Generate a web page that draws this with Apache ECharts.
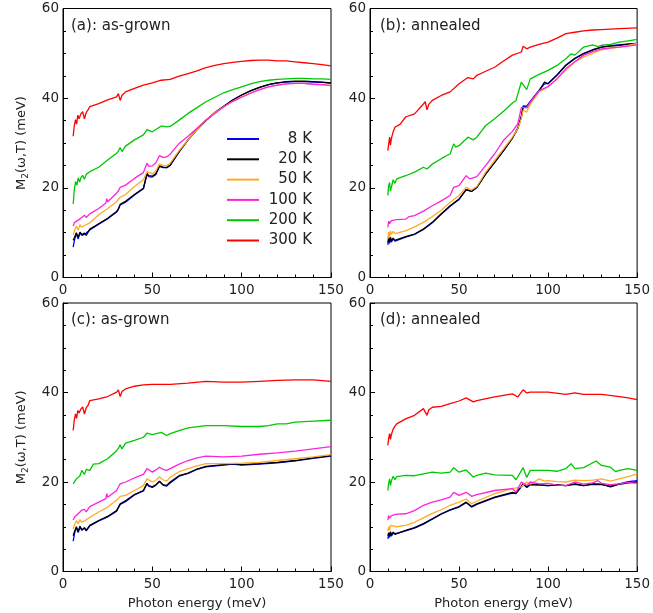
<!DOCTYPE html>
<html><head><meta charset="utf-8">
<script src="https://cdn.jsdelivr.net/npm/echarts@6/dist/echarts.min.js"></script>
<style>html,body{margin:0;padding:0;background:#fff}#c{width:653px;height:613px}</style>
</head><body><div id="c"></div>
<script>
var seriesNames = ['8 K','20 K','50 K','100 K','200 K','300 K'];
var seriesColors = ['#0000ff','#000000','#ffab26','#ff22dd','#00c800','#ff0000'];
var panelTitles = ['(a): as-grown','(b): annealed','(c): as-grown','(d): annealed'];
var xTicks = [0,50,100,150];
var yTicks = [0,20,40,60];

// Panel (a)
var a8 = [[5.7,6.8],[6.5,8.5],[7.5,9.8],[8.5,8.6],[9.5,10],[10.5,9.4],[12,9.6],[13,9.2],[15,10.6],[20,11.9],[25,13.1],[30,14.6],[31,15.2],[32,16.2],[33,15.8],[35,16.8],[40,18.4],[45,19.8],[47,23],[48,22.5],[50,22.4],[52,23],[54,24.8],[56,24.5],[58,24.5],[60,25],[65,28],[70,30.7],[75,33],[80,35],[85,36.8],[90,38.2],[95,39.6],[100,40.7],[105,41.6],[110,42.4],[115,43],[120,43.4],[125,43.6],[130,43.7],[135,43.7],[140,43.6],[145,43.5],[150,43.3]];
var a20 = [[5.7,8.3],[6.5,9],[7.5,10],[8.5,8.9],[9.5,10.1],[10.5,9.6],[12,9.9],[13,9.4],[15,10.8],[20,12],[25,13.2],[30,14.7],[31,15.3],[32,16.3],[33,15.9],[35,17],[40,18.5],[45,19.9],[47,23.2],[48,22.7],[50,22.6],[52,23.2],[54,24.9],[56,24.6],[58,24.5],[60,25.1],[65,28.1],[70,30.7],[75,33],[80,35],[85,36.8],[90,38.2],[95,39.6],[100,40.7],[105,41.7],[110,42.4],[115,43],[120,43.4],[125,43.7],[130,43.8],[135,43.8],[140,43.7],[145,43.6],[150,43.4]];
var a50 = [[5.7,9.5],[6.5,10.5],[7.5,11.5],[8.5,10.6],[9.5,11.8],[10.5,11.2],[12,11.6],[13,11.4],[15,12.2],[20,14],[25,15.4],[30,16.9],[31,17.3],[32,17.9],[33,17.5],[35,18.5],[40,20.3],[45,21.8],[47,23.6],[48,23.2],[50,23.1],[52,23.8],[54,25.3],[56,25],[58,24.9],[60,25.5],[65,28.3],[70,30.7],[75,33],[80,35.1],[85,36.8],[90,38.1],[95,39.3],[100,40.3],[105,41.2],[110,41.9],[115,42.5],[120,42.9],[125,43.2],[130,43.3],[135,43.3],[140,43.1],[145,43],[150,42.8]];
var a100 = [[5.7,11.5],[6.5,12.3],[7.5,12.1],[8.5,12.8],[9.5,12.5],[10.5,13.4],[12,13.9],[13,13.4],[15,14.2],[20,15.4],[24,16.6],[24.5,17.6],[25,16.9],[30,18.8],[31,19.3],[32,20.1],[33,19.8],[35,20.6],[40,22.1],[45,23.4],[47,25.5],[48,24.8],[50,24.9],[52,25.6],[54,27.2],[56,26.8],[58,26.9],[60,27.5],[65,29.9],[70,31.5],[75,33.3],[80,35.1],[85,36.6],[90,38.1],[95,39.3],[100,40.2],[105,41.1],[110,41.9],[115,42.5],[120,42.9],[125,43.2],[130,43.3],[135,43.3],[140,43.1],[145,43],[150,42.8]];
var a200 = [[5.7,16.4],[6.3,19.5],[7,21.4],[7.8,20.6],[8.5,22.2],[9.3,21.3],[10,22.2],[11,22.8],[12,21.9],[13,23],[15,23.6],[20,24.6],[25,26.2],[30,27.7],[31,28.2],[32,29],[33,28.1],[35,29.3],[40,30.7],[45,31.8],[47,33],[48,32.6],[50,32.5],[55,33.8],[58,33.6],[60,33.7],[65,35.1],[70,36.6],[75,37.9],[80,39.2],[85,40.2],[90,41.2],[95,41.9],[100,42.5],[105,43.2],[110,43.7],[115,44],[120,44.2],[125,44.3],[130,44.4],[135,44.4],[140,44.3],[145,44.3],[150,44.2]];
var a300 = [[5.7,31.5],[6.3,33.8],[7,35.2],[7.6,34.2],[8.3,36.2],[9,35.4],[10,36.5],[11,37],[12,35.4],[13,36.8],[14,37.4],[15,38.1],[20,38.8],[25,39.6],[30,40.3],[31,41],[32,39.5],[33,40.6],[35,41.4],[40,42.2],[45,42.9],[50,43.4],[55,44],[60,44.2],[65,44.9],[70,45.5],[75,46.1],[80,46.8],[85,47.3],[90,47.7],[95,48],[100,48.2],[105,48.4],[110,48.5],[115,48.5],[120,48.3],[125,48.3],[130,48.1],[135,47.9],[140,47.7],[145,47.5],[150,47.2]];

// Panel (b)
var b8 = [[10,7.3],[10.5,8.5],[11,7.6],[11.5,8.8],[12,7.9],[13,8.6],[14,8.1],[15,8.5],[20,9],[25,9.6],[30,10.7],[35,12.2],[40,14.1],[45,15.9],[50,17.4],[54,19.6],[57,19.2],[60,20.1],[65,23.1],[70,25.7],[75,28.3],[80,31.1],[83,33.4],[85,36],[86,38.3],[88,38.2],[90,39.3],[95,41.8],[98,43.2],[100,43.3],[105,45.2],[110,47.4],[115,48.9],[120,50],[125,50.8],[130,51.4],[135,51.7],[140,51.9],[145,52.1],[150,52.2]];
var b20 = [[10,7.8],[10.5,8.9],[11,8],[11.5,9],[12,8.2],[13,8.8],[14,8.3],[15,8.6],[20,9.1],[25,9.7],[30,10.8],[35,12.3],[40,14.2],[45,16],[50,17.5],[54,19.6],[57,19.2],[60,20.1],[65,23.1],[70,25.7],[75,28.3],[80,31.1],[83,33.2],[85,35.8],[86,38],[88,37.9],[90,39.1],[95,41.7],[98,43.6],[100,43.2],[105,45.1],[110,47.3],[115,48.8],[120,49.9],[125,50.7],[130,51.4],[135,51.6],[140,51.8],[145,52],[150,52.2]];
var b50 = [[10,8.6],[10.5,10.2],[11,9],[11.5,10.4],[12,9.6],[13,10.3],[14,9.8],[15,10.1],[20,10.4],[25,11.3],[30,12.3],[35,13.6],[40,15],[45,16.8],[50,18.3],[54,20.1],[57,19.5],[60,20.3],[65,23.5],[70,26.1],[75,28.7],[80,31.3],[83,33.2],[85,35.5],[86,37.3],[88,36.9],[90,38.7],[95,41.4],[100,42.5],[105,44.3],[110,46.2],[115,48.1],[120,49.2],[125,50],[130,50.8],[135,51.1],[140,51.4],[145,51.8],[150,52.2]];
var b100 = [[10,11.2],[10.5,12.6],[11,12],[12,12.7],[13,12.3],[15,12.9],[20,13],[22,13.6],[25,13.8],[30,14.8],[35,16],[40,17.1],[45,18.3],[47,20.1],[50,20.5],[54,22.7],[56,22],[60,22.5],[65,25],[70,27.6],[75,30.6],[80,32.6],[83,34.3],[85,37.9],[88,37.9],[90,39.1],[95,41.7],[100,42.6],[105,44.3],[110,46.6],[115,48.1],[120,49.6],[125,50.4],[130,51],[135,51.2],[140,51.4],[145,51.6],[150,51.9]];
var b200 = [[10,18.3],[10.5,20.5],[11,21.2],[11.5,19.3],[12,20.1],[13,21.8],[14,21],[15,22],[20,22.7],[25,23.5],[30,24.6],[32,24.2],[35,25.3],[40,26.5],[45,27.6],[47,29.8],[48,29.1],[50,29.4],[55,31.3],[58,30.7],[60,31.3],[65,33.9],[70,35.4],[75,37.1],[80,38.9],[82,39.5],[85,43.6],[88,41.9],[90,44.3],[95,45.3],[100,46.2],[105,47.3],[110,48.8],[113,49.9],[115,49.6],[120,51.4],[125,51.9],[128,51.5],[130,51.8],[135,52],[140,52.5],[145,52.8],[150,53.1]];
var b300 = [[10,28.3],[10.5,29.8],[11,31.3],[11.5,29.5],[12,31],[13,32.5],[14,33.5],[15,33.9],[17,34.2],[20,35.8],[25,36.5],[30,38.7],[31,39.2],[32,37.4],[33,38.6],[35,39.5],[40,40.6],[45,41.4],[50,43.2],[55,44.6],[58,44.3],[60,45.1],[65,46],[70,46.9],[75,48.3],[80,49.6],[85,50.3],[86,51.6],[88,51],[90,51.4],[95,52],[100,52.5],[105,53.4],[110,54.4],[115,54.7],[120,55],[125,55.2],[130,55.3],[140,55.5],[150,55.7]];

// Panel (c)
var c8 = [[5.7,6.8],[6.5,8.6],[7.5,9.8],[8.5,8.7],[9.5,10],[10.5,9.2],[12,9.7],[13,9.1],[15,10.2],[20,11.3],[25,12.2],[30,13.5],[32,15],[33,14.8],[35,15.6],[40,17.1],[45,18],[47,19.6],[48,19.1],[50,18.8],[52,19.3],[54,20.1],[56,19.3],[58,19.1],[60,19.8],[65,21.3],[70,21.9],[75,22.8],[80,23.4],[90,23.8],[95,24],[100,23.8],[110,24],[120,24.3],[130,24.7],[140,25.3],[150,25.8]];
var c20 = [[5.7,8],[6.5,9],[7.5,10],[8.5,8.9],[9.5,10.1],[10.5,9.3],[12,9.8],[13,9.2],[15,10.3],[20,11.4],[25,12.3],[30,13.6],[32,15.1],[33,14.9],[35,15.8],[40,17.2],[45,18.1],[47,19.7],[48,19.2],[50,18.9],[52,19.4],[54,20.2],[56,19.4],[58,19.2],[60,20],[65,21.4],[70,22],[75,22.9],[80,23.5],[90,23.9],[95,24.1],[100,23.9],[110,24.1],[120,24.4],[130,24.8],[140,25.4],[150,25.9]];
var c50 = [[5.7,9.5],[6.5,10.5],[7.5,11.4],[8.5,10.7],[9.5,11.6],[10.5,11],[12,11.3],[13,11.2],[15,12.1],[20,13.3],[25,14.4],[30,15.9],[32,16.8],[33,16.4],[35,17],[40,18.1],[45,19.2],[47,20.7],[48,20.3],[50,20],[52,20.4],[54,21.1],[56,20.5],[58,20.2],[60,21.1],[65,22.3],[70,23],[75,23.6],[80,24.1],[90,24.1],[100,24.2],[110,24.4],[120,24.8],[130,25.2],[140,25.6],[150,26.1]];
var c100 = [[5.7,11.5],[6.5,12.2],[7.5,12],[8.5,12.9],[9.5,12.6],[10.5,13.7],[12,13.9],[13,13.3],[15,14.5],[20,15.5],[24,16.3],[24.5,17.4],[25,16.6],[30,18.1],[32,19.6],[33,19.3],[35,20],[40,20.9],[45,21.7],[47,23],[48,22.6],[50,22.2],[52,22.7],[54,23.3],[56,22.8],[58,22.6],[60,23],[65,24],[70,24.8],[75,25.4],[80,25.8],[90,25.6],[100,25.8],[110,26.2],[120,26.5],[130,26.9],[140,27.4],[150,27.9]];
var c200 = [[5.7,19.6],[6.5,20.1],[7.5,20.7],[8.5,20.5],[9.5,21.4],[10.5,22.6],[12,21.7],[13,22.8],[15,22.6],[17,24],[20,24.1],[25,25.2],[30,27],[31,27.5],[32,28.3],[33,27.4],[35,28.7],[40,29.3],[45,30],[47,30.9],[48,30.6],[50,30.6],[55,31.1],[58,30.4],[60,30.8],[65,31.5],[70,32.1],[80,32.6],[90,32.6],[100,32.4],[110,32.4],[115,32.6],[120,33],[125,33],[130,33.4],[140,33.6],[150,33.8]];
var c300 = [[5.7,31.5],[6.3,33.8],[7,35.2],[7.6,34.2],[8.3,36],[9,35.4],[10,36.3],[11,36.8],[12,35.2],[13,36.6],[14,37.1],[15,38.2],[20,38.6],[25,39.1],[30,40.1],[31,40.6],[32,39.1],[33,40.2],[35,40.8],[40,41.4],[45,41.7],[50,41.8],[60,41.8],[70,42.1],[80,42.5],[90,42.3],[100,42.3],[110,42.5],[120,42.7],[130,42.8],[140,42.8],[150,42.5]];

// Panel (d)
var d8 = [[10,7.3],[10.5,8.3],[11,7.6],[11.5,8.6],[12,7.9],[13,8.5],[14,8.1],[15,8.5],[20,9.1],[25,9.7],[30,10.6],[35,11.7],[40,12.8],[45,13.7],[50,14.4],[54,15.4],[57,14.4],[60,15],[70,16.5],[80,17.5],[82,17.4],[86,19.5],[88,18.8],[90,19.4],[95,19.3],[100,19.2],[105,19.3],[110,19.2],[115,19.5],[120,19.2],[125,19.5],[130,19.4],[135,19.1],[140,19.6],[145,20.1],[150,20.3]];
var d20 = [[10,8],[10.5,8.7],[11,7.9],[11.5,8.9],[12,8.2],[13,8.8],[14,8.3],[15,8.6],[20,9.2],[25,9.8],[30,10.7],[35,11.8],[40,12.9],[45,13.8],[50,14.5],[54,15.5],[57,14.5],[60,15.1],[70,16.6],[80,17.7],[82,17.5],[86,19.6],[88,18.9],[90,19.5],[95,19.4],[100,19.2],[105,19.4],[110,19.2],[115,19.6],[120,19.2],[125,19.6],[130,19.5],[135,18.9],[140,19.5],[145,19.8],[150,20]];
var d50 = [[10,9],[10.5,10],[11,9.2],[11.5,10.3],[12,9.9],[13,10.2],[15,10],[20,10.3],[25,11],[30,12],[35,13],[40,13.8],[45,14.8],[50,15.5],[54,16.2],[57,15.1],[60,15.7],[70,17.4],[80,18.5],[85,18.9],[88,20],[90,19.5],[95,20.7],[98,20.2],[100,20.3],[105,20.1],[110,20],[115,20.4],[120,20.3],[125,20.4],[130,20.7],[135,20.2],[140,20.7],[145,21.2],[150,21.8]];
var d100 = [[10,11.5],[10.5,12.5],[11,11.9],[12,12.5],[13,12.2],[15,12.8],[20,12.9],[25,13.6],[30,14.8],[35,15.5],[40,16],[45,16.6],[47,17.7],[50,17],[54,17.7],[57,16.8],[60,17.2],[70,18.1],[80,18.5],[82,17.7],[85,20],[88,19.2],[90,20],[95,19.6],[100,19.7],[105,19.3],[110,19.2],[115,20],[120,19.5],[125,19.8],[128,20.3],[130,19.7],[135,19.4],[140,19.6],[145,19.9],[150,19.7]];
var d200 = [[10,18.1],[10.5,19.8],[11,20.7],[11.5,19.2],[12,20.2],[13,21.3],[14,20.5],[15,21.2],[20,21.5],[25,21.4],[30,21.8],[35,22.2],[40,22],[45,22.2],[47,23.2],[50,22.2],[54,22.7],[58,21.1],[60,21.5],[65,22],[70,21.6],[80,21.5],[82,20.5],[86,23.2],[88,21],[90,22.6],[100,22.6],[105,22.4],[110,23],[113,24.1],[115,23],[120,23.2],[127,24.7],[130,23.7],[135,23.3],[138,22.3],[140,22.6],[145,23],[150,22.6]];
var d300 = [[10,28.2],[10.5,29.8],[11,30.8],[11.5,29.5],[12,30.6],[13,31.8],[14,32.5],[15,33],[20,34.1],[25,34.9],[30,36.4],[31,36.7],[32,34.9],[33,36.1],[35,36.7],[40,36.9],[45,37.5],[50,38.1],[54,38.8],[58,37.9],[60,38.2],[70,39],[80,39.7],[83,39],[86,40.6],[88,39.9],[90,40.1],[100,40.1],[110,39.6],[115,39.9],[120,39.6],[130,39.6],[140,39.1],[145,38.8],[150,38.4]];

var panelData = [
  [a8,a20,a50,a100,a200,a300],
  [b8,b20,b50,b100,b200,b300],
  [c8,c20,c50,c100,c200,c300],
  [d8,d20,d50,d100,d200,d300]
];

var FONT = 'DejaVu Sans';
var TXT = '#222';
var grids = [
  {left:63, top:8.5, width:268, height:269},
  {left:370, top:8.5, width:269, height:269},
  {left:63, top:303, width:268, height:268.5},
  {left:370, top:303, width:269, height:268.5}
];
var titlePos = [[71,19],[380,19],[71,313],[380,313]];

var option = {
  animation:false,
  backgroundColor:'#fff',
  grid: grids.map(function(g){ return Object.assign({show:true, borderColor:'#000', borderWidth:1, backgroundColor:'transparent'}, g); }),
  title: panelTitles.map(function(t,i){ return {text:t, left:titlePos[i][0], top:titlePos[i][1], padding:0,
    textStyle:{fontFamily:FONT, fontSize:15, fontWeight:'normal', color:TXT}}; }),
  legend: {
    data: seriesNames, orient:'vertical', left:227, top:129, padding:0,
    itemWidth:32, itemHeight:2, itemGap:0.3, icon:'rect',
    formatter: function(n){ return '{t|'+n+'}'; },
    textStyle:{fontFamily:FONT, fontSize:15, color:TXT, lineHeight:20,
      rich:{t:{fontFamily:FONT, fontSize:15, color:TXT, width:48, align:'right', lineHeight:20}}}
  },
  xAxis: [], yAxis: [], series: []
};

for (var p=0;p<4;p++){
  var bottomRow = p>=2, leftCol = (p%2===0);
  option.xAxis.push({
    type:'value', gridIndex:p, min:xTicks[0], max:xTicks[xTicks.length-1], interval:xTicks[1]-xTicks[0],
    axisLine:{show:true, lineStyle:{color:'#000', width:1}},
    axisTick:{show:true, inside:true, length:5, lineStyle:{color:'#000'}},
    minorTick:{show:true, splitNumber:5, length:3, lineStyle:{color:'#000'}},
    splitLine:{show:false},
    axisLabel:{fontFamily:FONT, fontSize:13.5, color:TXT, margin:6},
    name: bottomRow ? 'Photon energy (meV)' : '', nameLocation:'middle', nameGap:26,
    nameTextStyle:{fontFamily:FONT, fontSize:13, color:TXT}
  });
  option.yAxis.push({
    type:'value', gridIndex:p, min:yTicks[0], max:yTicks[yTicks.length-1], interval:yTicks[1]-yTicks[0],
    axisLine:{show:true, lineStyle:{color:'#000', width:1}},
    axisTick:{show:true, inside:true, length:5, lineStyle:{color:'#000'}},
    minorTick:{show:true, splitNumber:4, length:3, lineStyle:{color:'#000'}},
    splitLine:{show:false},
    axisLabel:{fontFamily:FONT, fontSize:13.5, color:TXT, margin:4},
    name: leftCol ? 'M{s|2}(ω,T) (meV)' : '', nameLocation:'middle', nameGap:33, nameRotate:90,
    nameTextStyle:{fontFamily:FONT, fontSize:13, color:TXT,
      rich:{s:{fontFamily:FONT, fontSize:9, color:TXT, padding:[7,0,0,0]}}}
  });
  for (var s=0;s<6;s++){
    option.series.push({
      type:'line', name:seriesNames[s], xAxisIndex:p, yAxisIndex:p,
      data:panelData[p][s], showSymbol:false, symbol:'none',
      lineStyle:{color:seriesColors[s], width:1.3}, itemStyle:{color:seriesColors[s]},
      z: 2+s
    });
  }
}

var chart = echarts.init(document.getElementById('c'), null, {renderer:'canvas'});
chart.setOption(option);
</script></body></html>
